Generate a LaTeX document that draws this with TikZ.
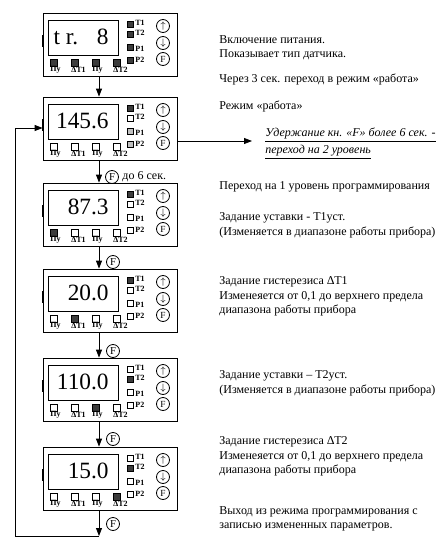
\documentclass[tikz,border=0pt]{standalone}
\usepackage{fontspec}
\setmainfont{Liberation Serif}
\usetikzlibrary{arrows.meta}

\definecolor{ledon}{HTML}{3C3C3C}
\definecolor{ledgr}{HTML}{C0C0C0}

% one instrument front panel: name, top edge, display, T1, T2, P1, P2, active bottom key (9 = all)
\newcommand{\pribor}[8]{%
  \node[panel] (#1) at (110,{#2+31.5}) {};
  \draw (48,{#2+7}) rectangle (118,{#2+42});
  \node[disp] (#1-d) at (109,{#2+31}) {#3};
  \fill (41.5,{#2+22}) rectangle (43.5,{#2+34});
  \draw[fill=#4] (127,{#2+8}) rectangle (133,{#2+14});
  \draw[fill=#5] (127,{#2+18}) rectangle (133,{#2+24});
  \draw[fill=#6] (127,{#2+31}) rectangle (133,{#2+37});
  \draw[fill=#7] (127,{#2+44}) rectangle (133,{#2+50});
  \node[ledtxt] (#1-t1) at (135,{#2+10}) {T1};
  \node[ledtxt] (#1-t2) at (135,{#2+20}) {T2};
  \node[ledtxt] (#1-p1) at (135,{#2+36}) {P1};
  \node[ledtxt] (#1-p2) at (135,{#2+47}) {P2};
  \node[knopka] (#1-up) at (163,{#2+13}) {$\uparrow$};
  \node[knopka] (#1-dn) at (163,{#2+30}) {$\downarrow$};
  \node[knopka] (#1-f) at (163,{#2+46}) {F};
  \foreach \xx/\lab [count=\i] in {50/Пу,71/∆Т1,92/Пу,113/∆Т2}{
    \def\bfill{white}\ifnum\i=#8\def\bfill{ledon}\fi\ifnum#8=9\def\bfill{ledon}\fi
    \draw[fill=\bfill] (\xx,{#2+46}) rectangle ({\xx+7},{#2+53});
    \node[keytxt] (#1-k\i) at (\xx,{#2+57}) {\lab};
  }
}

\begin{document}
\begin{tikzpicture}[x=0.75pt,y=-0.75pt,>={Triangle[length=6pt,width=4.5pt]},line width=0.6pt,
  panel/.style={draw,minimum width=100.5pt,minimum height=47.25pt,inner sep=0pt},
  disp/.style={anchor=base east,inner sep=0pt,font=\fontsize{17.5}{20}\selectfont},
  ledtxt/.style={anchor=west,inner sep=0pt,font=\fontsize{6}{6}\selectfont\bfseries},
  keytxt/.style={anchor=west,inner sep=0pt,font=\fontsize{6}{6}\selectfont\bfseries},
  knopka/.style={draw,circle,minimum size=9.75pt,inner sep=0pt,font=\fontsize{7}{7}\selectfont},
  fkn/.style={draw,circle,minimum size=9.75pt,inner sep=0pt,font=\fontsize{8}{8}\selectfont},
  txt/.style={anchor=north west,inner sep=0pt,align=left,font=\fontsize{9}{11}\selectfont}]
\useasboundingbox (0,0) rectangle (438,539);

\pribor{pr1}{13}{t r.\hspace{0.8em}8}{ledon}{ledon}{ledon}{ledon}{9}
\pribor{pr2}{97}{145.6}{ledon}{white}{ledgr}{ledgr}{0}
\pribor{pr3}{183}{87.3}{ledon}{white}{white}{white}{1}
\pribor{pr4}{269}{20.0}{ledon}{white}{white}{white}{2}
\pribor{pr5}{358}{110.0}{white}{ledon}{white}{white}{3}
\pribor{pr6}{447}{15.0}{white}{ledon}{white}{white}{4}

% transitions
\coordinate (ax) at (99,0);
\coordinate (ug) at (99,536);
\coordinate (lv) at (15,128);
\coordinate (pv) at (252,141);
\draw[->] (pr1.south -| ax) -- (pr2.north -| ax);
\draw[->] (pr2.south -| ax) -- (pr3.north -| ax);
\draw[->] (pr3.south -| ax) -- (pr4.north -| ax);
\draw[->] (pr4.south -| ax) -- (pr5.north -| ax);
\draw[->] (pr5.south -| ax) -- (pr6.north -| ax);
\draw[->] (pr6.south -| ax) -- (ug);
\draw[->] (ug) -| (lv) -- (pr2.west |- lv);
\draw[->] (pr2.east |- pv) -- (pv);

\node[fkn] (f2) at (112,177) {F};
\node[anchor=west,inner sep=0pt,font=\fontsize{9}{11}\selectfont] (f2t) at (122,177) {до 6 сек.};
\node[fkn] (f3) at (113,262) {F};
\node[fkn] (f4) at (113,351) {F};
\node[fkn] (f5) at (113,439) {F};
\node[fkn] (f6) at (113,524) {F};

% comments on the right
\node[txt] (t1) at (219,35) {Включение питания.\\Показывает тип датчика.};
\node[txt] (t2) at (219,74) {Через 3 сек. переход в режим «работа»};
\node[txt] (t3) at (219,101) {Режим «работа»};
\node[txt,font=\fontsize{9}{12.5}\selectfont\itshape] (t4) at (265,128)
  {\underline{Удержание кн. «F» более 6 сек. -}\\\underline{переход на 2 уровень}};
\node[txt] (t5) at (219,181) {Переход на 1 уровень программирования};
\node[txt] (t6) at (219,212) {Задание уставки - Т1уст.\\(Изменяется в диапазоне работы прибора)};
\node[txt] (t7) at (219,276) {Задание гистерезиса ∆Т1\\Изменеяется от 0,1 до верхнего предела\\диапазона работы прибора};
\node[txt] (t8) at (219,370) {Задание уставки – Т2уст.\\(Изменяется в диапазоне работы прибора)};
\node[txt] (t9) at (219,436) {Задание гистерезиса ∆Т2\\Изменеяется от 0,1 до верхнего предела\\диапазона работы прибора};
\node[txt] (t10) at (219,506) {Выход из режима программирования с\\записью измененных параметров.};
\end{tikzpicture}
\end{document}
